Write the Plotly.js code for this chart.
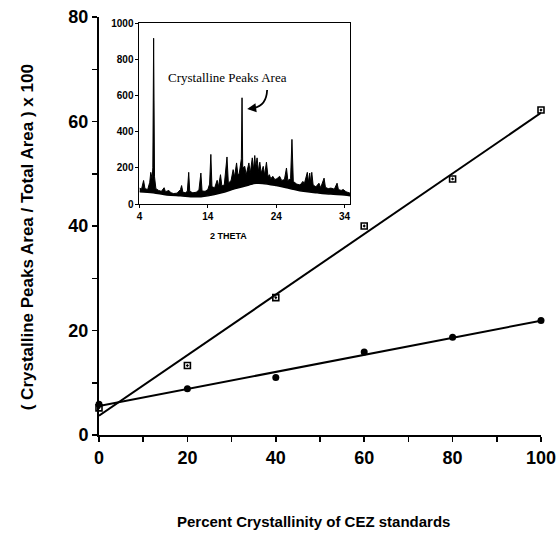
<!DOCTYPE html>
<html>
<head>
<meta charset="utf-8">
<script src="https://cdn.plot.ly/plotly-3.0.1.min.js"></script>
<style>html,body{margin:0;padding:0;background:#fff;}#chart{width:558px;height:533px;}</style>
</head>
<body>
<div id="chart"></div>
<script>
// Main chart data
var crystallinity = [0, 20, 40, 60, 80, 100];
var seriesA = [5.2, 13.3, 26.3, 40.0, 49.0, 62.2];
var seriesB = [5.9, 8.85, 11.0, 15.9, 18.7, 21.9];

// Inset XRD pattern (2 theta vs intensity)
var thetaUpper = [4.0,4.3,4.6,4.8,5.2,5.5,5.65,5.85,5.95,6.07,6.2,6.4,6.8,7.2,7.6,7.8,8.3,8.6,9.0,9.5,10.0,10.16,10.35,10.7,11.0,11.2,11.35,11.8,12.3,12.7,12.98,13.15,13.6,14.0,14.25,14.44,14.6,15.0,15.36,15.55,15.85,16.05,16.4,16.8,17.0,17.4,17.7,17.9,18.2,18.4,18.6,18.9,19.0,19.1,19.4,19.6,20.0,20.2,20.5,20.7,20.86,21.0,21.2,21.4,21.6,21.8,22.1,22.3,22.57,22.8,23.0,23.2,23.5,23.8,24.1,24.5,24.8,25.2,25.5,25.7,26.1,26.3,26.5,27.0,27.5,27.9,28.1,28.55,28.7,28.9,29.05,29.2,29.4,29.8,30.25,30.5,31.0,31.2,31.6,32.0,32.5,32.9,33.1,33.5,33.8,34.2,34.8];
var intensityUpper = [88,82,130,85,80,120,175,140,200,916,150,85,75,70,90,68,75,62,58,60,80,102,65,62,70,175,70,62,65,78,171,72,70,80,110,274,95,90,131,95,162,100,105,260,115,130,190,150,227,160,170,250,587,200,208,160,227,170,255,190,268,200,255,180,231,170,208,160,231,150,162,140,153,135,140,153,130,135,199,130,140,357,125,110,105,125,110,175,120,171,115,175,105,95,115,90,143,92,85,88,82,115,80,75,80,68,60];
var thetaLower = [4,6,8,10,12,13,14,16,18,20,21,22,24,26,28,30,32,34,34.8];
var intensityLower = [68,62,50,45,40,40,45,62,85,105,114,114,102,86,70,62,55,50,45];

// Linear least-squares fit of a series
function fit(xs, ys) {
  var n = xs.length, mx = 0, my = 0;
  for (var i = 0; i < n; i++) { mx += xs[i]; my += ys[i]; }
  mx /= n; my /= n;
  var sxy = 0, sxx = 0;
  for (var j = 0; j < n; j++) { sxy += (xs[j]-mx)*(ys[j]-my); sxx += (xs[j]-mx)*(xs[j]-mx); }
  var m = sxy / sxx, b = my - m*mx;
  var x0 = xs[0], x1 = xs[n-1];
  return {x: [x0, x1], y: [b + m*x0, b + m*x1]};
}
var fitA = fit(crystallinity, seriesA);
var fitB = fit(crystallinity, seriesB);

var traces = [
  {x: fitA.x, y: fitA.y, mode: 'lines', line: {color: '#000', width: 2}, hoverinfo: 'skip', cliponaxis: false},
  {x: fitB.x, y: fitB.y, mode: 'lines', line: {color: '#000', width: 2}, hoverinfo: 'skip', cliponaxis: false},
  {x: crystallinity, y: seriesA, mode: 'markers', cliponaxis: false,
   marker: {symbol: 'square-open-dot', size: 6, color: '#000', line: {color: '#000', width: 1.6}}},
  {x: crystallinity, y: seriesB, mode: 'markers', cliponaxis: false,
   marker: {symbol: 'circle', size: 7, color: '#000'}},
  {x: thetaLower, y: intensityLower, xaxis: 'x2', yaxis: 'y2', mode: 'lines',
   line: {color: '#000', width: 1.5, shape: 'spline'}},
  {x: thetaUpper, y: intensityUpper, xaxis: 'x2', yaxis: 'y2', mode: 'lines', fill: 'tonexty',
   fillcolor: '#000', line: {color: '#000', width: 1}}
];

var boldTick = {family: 'Liberation Sans, Arial, sans-serif', size: 18, color: '#000', weight: 'bold'};
var smallTick = {family: 'Liberation Sans, Arial, sans-serif', size: 10, color: '#000', weight: 'bold'};

var layout = {
  width: 558, height: 533,
  margin: {l: 99, r: 17, t: 17, b: 98},
  paper_bgcolor: '#fff', plot_bgcolor: '#fff',
  showlegend: false,
  xaxis: {range: [0, 100], dtick: 20, tick0: 0, showgrid: false, zeroline: false,
    showline: true, linecolor: '#000', linewidth: 2, ticks: 'outside', ticklen: 5, tickwidth: 1.5,
    tickcolor: '#000', tickfont: boldTick,
    minor: {dtick: 10, ticks: 'outside', ticklen: 5, tickwidth: 1.5, tickcolor: '#000', showgrid: false}},
  yaxis: {range: [0, 80], dtick: 20, tick0: 0, showgrid: false, zeroline: false,
    showline: true, linecolor: '#000', linewidth: 2, ticks: 'outside', ticklen: 5, tickwidth: 1.5,
    tickcolor: '#000', tickfont: boldTick,
    minor: {dtick: 10, ticks: 'outside', ticklen: 5, tickwidth: 1.5, tickcolor: '#000', showgrid: false}},
  xaxis2: {domain: [0.0916, 0.568], anchor: 'y2', range: [4, 34.8], tickvals: [4, 14, 24, 34],
    showgrid: false, zeroline: false, showline: true, mirror: true, linecolor: '#000', linewidth: 1,
    ticks: 'outside', ticklen: 3, tickwidth: 1, tickcolor: '#000', tickfont: smallTick},
  yaxis2: {domain: [0.5526, 0.9856], anchor: 'x2', range: [0, 1000], dtick: 200,
    showgrid: false, zeroline: false, showline: true, mirror: true, linecolor: '#000', linewidth: 1,
    ticks: 'outside', ticklen: 3, tickwidth: 1, tickcolor: '#000', tickfont: smallTick},
  shapes: [
    {type: 'path', xref: 'x2', yref: 'y2', path: 'M 22.67,630 Q 22.55,535 20.4,530',
     line: {color: '#000', width: 1.8}}
  ],
  annotations: [
    {xref: 'paper', yref: 'paper', x: -0.16, y: 0.4737, xanchor: 'center', yanchor: 'middle',
     textangle: -90, showarrow: false, text: '( Crystalline Peaks Area / Total Area ) x 100',
     font: {family: 'Liberation Sans, Arial, sans-serif', size: 17, color: '#000', weight: 'bold'}},
    {xref: 'paper', yref: 'paper', x: 0.172, y: -0.208, xanchor: 'left', yanchor: 'middle',
     showarrow: false, text: 'Percent Crystallinity of CEZ standards',
     font: {family: 'Liberation Sans, Arial, sans-serif', size: 15, color: '#000', weight: 'bold'}},
    {xref: 'x', yref: 'y', x: 100.2, y: 69, showarrow: false, text: 'a',
     font: {family: 'Liberation Sans, Arial, sans-serif', size: 18, color: '#000'}},
    {xref: 'x', yref: 'y', x: 101, y: 26.3, showarrow: false, text: 'b',
     font: {family: 'Liberation Sans, Arial, sans-serif', size: 18, color: '#000'}},
    {xref: 'paper', yref: 'paper', x: 0.294, y: 0.476, xanchor: 'center', yanchor: 'middle',
     showarrow: false, text: '2 THETA',
     font: {family: 'Liberation Sans, Arial, sans-serif', size: 9, color: '#000', weight: 'bold'}},
    {xref: 'x2', yref: 'y2', x: 16.9, y: 700, showarrow: false, text: 'Crystalline Peaks Area',
     font: {family: 'Liberation Serif, serif', size: 13, color: '#000'}},
    {xref: 'x2', yref: 'y2', x: 19.75, y: 525, ax: 7, ay: -1, showarrow: true, text: '',
     arrowhead: 2, arrowsize: 1, arrowwidth: 1.8, arrowcolor: '#000', standoff: 0}
  ]
};

Plotly.newPlot('chart', traces, layout, {displayModeBar: false, staticPlot: true});
</script>
</body>
</html>
